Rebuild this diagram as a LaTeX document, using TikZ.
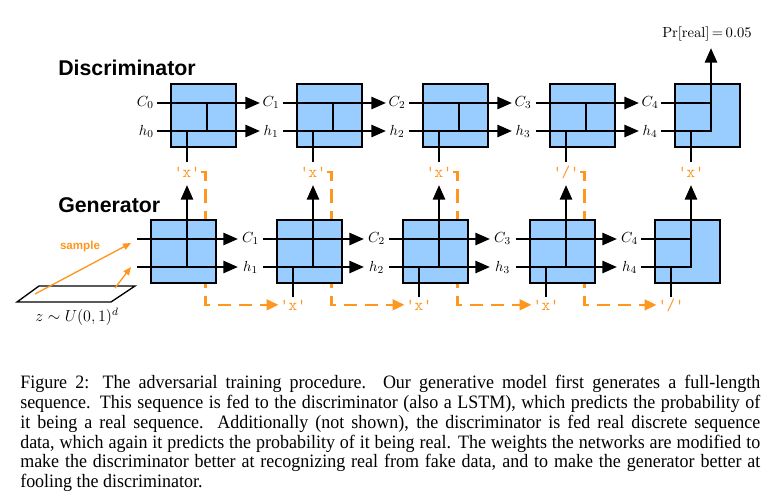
\documentclass[tikz,border=0pt]{standalone}
\usepackage[no-math]{fontspec}
\newfontfamily\capfont{Liberation Serif}[FakeStretch=0.95]
\newfontfamily\hfont{Liberation Sans}
\usetikzlibrary{arrows.meta}
\definecolor{cellblue}{RGB}{153,204,255}
\definecolor{tokorange}{RGB}{255,150,30}
\newcommand\tokq[1]{\textquotesingle#1\textquotesingle}
\begin{document}
\begin{tikzpicture}[x=0.75pt,y=-0.75pt,
  cell/.style={draw=black, line width=1.6pt, fill=cellblue, minimum width=48.75pt, minimum height=47.25pt, inner sep=0pt, outer sep=0pt, anchor=north west},
  wire/.style={line width=2pt, black},
  warrow/.style={wire, -{Triangle[length=11pt,width=9pt]}},
  state/.style={font=\fontsize{10.8}{12}\selectfont, inner sep=0pt, anchor=base},
  tok/.style={text=tokorange, font=\ttfamily\fontsize{12.5}{14}\selectfont, inner sep=1pt, anchor=base},
  feed/.style={draw=tokorange, line width=1.9pt, dash pattern=on 10pt off 6pt, -{Triangle[length=9pt,width=8pt]}},
  samp/.style={draw=tokorange, line width=1pt, -{Triangle[length=6pt,width=5pt]}},
  title/.style={font=\hfont\bfseries\fontsize{16}{19}\selectfont, anchor=base west, inner sep=0pt},
]
\useasboundingbox (0,0) rectangle (781,496);

% titles
\node[title] (dtitle) at (58,75.5) {Discriminator};
\node[title] (gtitle) at (58,212) {Generator};

% tokens
\foreach \i/\dx/\t in {1/171/x, 2/297/x, 3/423/x, 4/550/{/}, 5/675/x}
  \node[tok] (t\i) at ({\dx+16},177) {\tokq{\t}};
\foreach \i/\gx/\t in {2/277/x, 3/403/x, 4/530/x, 5/655/{/}}
  \node[tok] (b\i) at ({\gx+16},310) {\tokq{\t}};

% dashed feeds (behind the cells)
\foreach \i/\j in {1/2, 2/3, 3/4, 4/5}
  \draw[feed] (t\i.east) -- ++(4,0) |- (b\j.west);

% discriminator cells
\foreach \i/\dx in {1/171, 2/297, 3/423, 4/550} {
  \node[cell] (d\i) at (\dx,84) {};
  \draw[wire] ({\dx+36},103) -- ({\dx+36},131);
  \draw[warrow] ({\dx-14},103) -- ({\dx+89},103);
  \draw[warrow] ({\dx-14},131) -- ({\dx+89},131);
  \draw[wire] ({\dx+16},162) -- ({\dx+16},131);
  \node[state] (dc\i) at ({\dx+100},106.5) {$C_{\i}$};
  \node[state] (dh\i) at ({\dx+100},135.5) {$h_{\i}$};
}
\node[cell] (d5) at (675,84) {};
\draw[wire] (661,103) -- (711,103);
\draw[warrow] (661,131) -- (711,131) -- (711,48);
\draw[wire] (691,162) -- (691,131);
\node[state, anchor=base east] (dc0) at (154,106.5) {$C_0$};
\node[state, anchor=base east] (dh0) at (154,135.5) {$h_0$};
\node[state] (pr) at (707,37) {$\Pr[\mathrm{real}]\,{=}\,0.05$};

% generator cells
\foreach \i/\gx in {1/151, 2/277, 3/403, 4/530} {
  \node[cell] (g\i) at (\gx,220) {};
  \draw[warrow] ({\gx-14},239) -- ({\gx+87},239);
  \draw[warrow] ({\gx-14},267) -- ({\gx+87},267);
  \draw[warrow] ({\gx+36},267) -- ({\gx+36},185);
  \node[state] (gc\i) at ({\gx+99.5},242.7) {$C_{\i}$};
  \node[state] (gh\i) at ({\gx+99.5},271.5) {$h_{\i}$};
}
\foreach \gx in {277, 403, 530}
  \draw[wire] ({\gx+16},297) -- ({\gx+16},267);
\node[cell] (g5) at (655,220) {};
\draw[wire] (641,239) -- (691,239);
\draw[warrow] (641,267) -- (691,267) -- (691,185);
\draw[wire] (671,297) -- (671,267);

% noise plane and sampling
\draw[line width=1pt] (17,302) -- (39,286) -- (135,286) -- (111,302) -- cycle;
\coordinate (zA) at (35,294);
\coordinate (zB) at (115,288);
\coordinate (inC) at (131,243);
\coordinate (inH) at (131,267);
\draw[samp] (zA) -- (inC);
\draw[samp] (zB) -- (inH);
\node[text=tokorange, font=\hfont\bfseries\fontsize{8.7}{10}\selectfont, anchor=base, inner sep=0pt] (sample) at (80,249) {sample};
\node[font=\fontsize{11.8}{13}\selectfont, anchor=base, inner sep=0pt] (zlab) at (77,321) {$z\sim U(0,1)^d$};

% caption
\node[anchor=north west, inner sep=0pt, text width=555pt, align=justify,
      font=\capfont\fontsize{14.2}{14.85}\selectfont] (cap) at (20,375) {%
Figure 2: The adversarial training procedure. Our generative model first generates a full-length\linebreak
sequence. This sequence is fed to the discriminator (also a LSTM), which predicts the probability of\linebreak
it being a real sequence. Additionally (not shown), the discriminator is fed real discrete sequence\linebreak
data, which again it predicts the probability of it being real. The weights the networks are modified to\linebreak
make the discriminator better at recognizing real from fake data, and to make the generator better at\linebreak
fooling the discriminator.};
\end{tikzpicture}
\end{document}
